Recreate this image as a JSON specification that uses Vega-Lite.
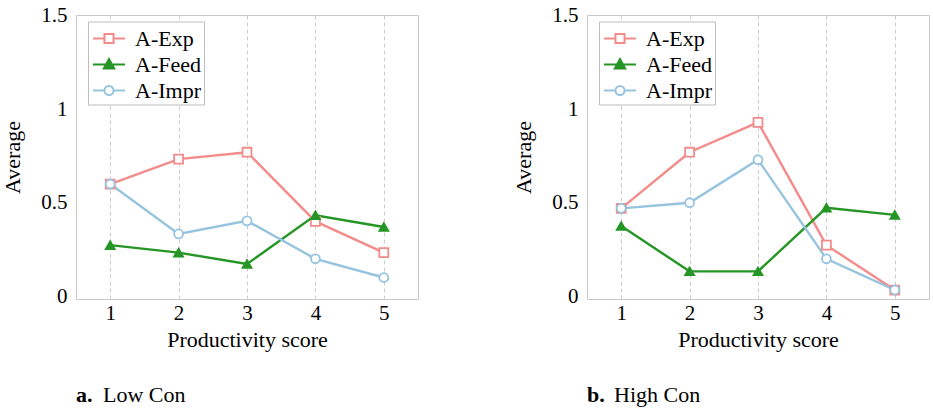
{
  "$schema": "https://vega.github.io/schema/vega-lite/v6.json",
  "padding": {"left": 1, "top": 4, "right": 2, "bottom": 2},
  "background": "white",
  "config": {
    "font": "Liberation Serif",
    "view": {"stroke": "#c8c8c8", "strokeWidth": 1},
    "axis": {
      "labelFont": "Liberation Serif",
      "labelFontSize": 21,
      "labelColor": "black",
      "titleFont": "Liberation Serif",
      "titleFontSize": 22,
      "titleFontWeight": "normal",
      "titleColor": "black",
      "domain": false,
      "ticks": false
    },
    "legend": {
      "labelFont": "Liberation Serif"
    },
    "title": {
      "orient": "bottom",
      "anchor": "start",
      "font": "Liberation Serif",
      "fontSize": 22,
      "color": "black"
    }
  },
  "datasets": {
    "low": [
      {"score": 1, "series": "A-Exp", "average": 0.6},
      {"score": 2, "series": "A-Exp", "average": 0.733},
      {"score": 3, "series": "A-Exp", "average": 0.77},
      {"score": 4, "series": "A-Exp", "average": 0.4},
      {"score": 5, "series": "A-Exp", "average": 0.233},
      {"score": 1, "series": "A-Feed", "average": 0.273},
      {"score": 2, "series": "A-Feed", "average": 0.233},
      {"score": 3, "series": "A-Feed", "average": 0.172},
      {"score": 4, "series": "A-Feed", "average": 0.433},
      {"score": 5, "series": "A-Feed", "average": 0.37},
      {"score": 1, "series": "A-Impr", "average": 0.6},
      {"score": 2, "series": "A-Impr", "average": 0.333},
      {"score": 3, "series": "A-Impr", "average": 0.403},
      {"score": 4, "series": "A-Impr", "average": 0.2},
      {"score": 5, "series": "A-Impr", "average": 0.1}
    ],
    "high": [
      {"score": 1, "series": "A-Exp", "average": 0.47},
      {"score": 2, "series": "A-Exp", "average": 0.77},
      {"score": 3, "series": "A-Exp", "average": 0.93},
      {"score": 4, "series": "A-Exp", "average": 0.273},
      {"score": 5, "series": "A-Exp", "average": 0.033},
      {"score": 1, "series": "A-Feed", "average": 0.375},
      {"score": 2, "series": "A-Feed", "average": 0.133},
      {"score": 3, "series": "A-Feed", "average": 0.133},
      {"score": 4, "series": "A-Feed", "average": 0.473},
      {"score": 5, "series": "A-Feed", "average": 0.435},
      {"score": 1, "series": "A-Impr", "average": 0.47},
      {"score": 2, "series": "A-Impr", "average": 0.5},
      {"score": 3, "series": "A-Impr", "average": 0.73},
      {"score": 4, "series": "A-Impr", "average": 0.2},
      {"score": 5, "series": "A-Impr", "average": 0.033}
    ]
  },
  "spacing": 93,
  "resolve": {"scale": {"color": "independent"}},
  "hconcat": [
    {
      "title": {"text": "Low Con", "fontWeight": "normal", "frame": "group", "offset": 0, "dx": 27, "dy": -22},
      "vconcat": [
        {
          "width": 342,
          "height": 284,
          "data": {"name": "low"},
          "title": {"text": "a.", "fontWeight": "bold", "frame": "group", "offset": 35},
          "encoding": {
            "x": {
              "field": "score", "type": "quantitative",
              "scale": {"domain": [0.5, 5.5], "nice": false, "zero": false},
              "axis": {"values": [1, 2, 3, 4, 5], "title": "Productivity score", "grid": true, "gridDash": [4, 3], "gridColor": "#cccccc", "labelPadding": 3, "titlePadding": 6}
            },
            "y": {
              "field": "average", "type": "quantitative",
              "scale": {"domain": [-0.015, 1.504], "nice": false, "zero": false},
              "axis": {"values": [0, 0.5, 1, 1.5], "format": ".1~f", "title": "Average", "grid": false, "labelPadding": 9, "titlePadding": 16}
            },
            "color": {
              "field": "series", "type": "nominal",
              "scale": {"domain": ["A-Exp", "A-Feed", "A-Impr"], "range": ["#f48b8b", "#259625", "#96c4de"]},
              "legend": {
                "title": null, "orient": "none", "legendX": 12, "legendY": 6.5,
                "symbolSize": 676, "symbolStrokeWidth": 2, "symbolOffset": 4,
                "labelFontSize": 22, "labelColor": "black",
                "labelOffset": 12, "rowPadding": 1, "padding": 3,
                "strokeColor": "#bdbdbd", "fillColor": "white",
                "encode": {
                  "symbols": {
                    "update": {
                      "shape": {"signal": "datum.value === 'A-Exp' ? 'M-1.23,0H-0.35M0.35,0H1.23M-0.35,-0.35H0.35V0.35H-0.35Z' : datum.value === 'A-Feed' ? 'M-1.23,0H1.23M0,-0.42L0.4,0.3H-0.4Z' : 'M-1.23,0H-0.35M0.35,0H1.23M-0.35,0A0.35,0.35 0 1,0 0.35,0A0.35,0.35 0 1,0 -0.35,0Z'"},
                      "stroke": {"signal": "datum.value === 'A-Exp' ? '#f48b8b' : datum.value === 'A-Feed' ? '#259625' : '#96c4de'"},
                      "fill": {"signal": "datum.value === 'A-Feed' ? '#259625' : 'white'"},
                      "opacity": {"value": 1}
                    }
                  }
                }
              }
            }
          },
          "layer": [
            {"mark": {"type": "line", "strokeWidth": 2.4}},
            {
              "mark": {"type": "point", "size": 80, "strokeWidth": 1.8, "opacity": 1, "filled": false},
              "encoding": {
                "shape": {"condition": [{"test": "datum.series === 'A-Exp'", "value": "square"}, {"test": "datum.series === 'A-Feed'", "value": "triangle-up"}], "value": "circle"},
                "fill": {"condition": {"test": "datum.series === 'A-Feed'", "value": "#259625"}, "value": "white"}
              }
            }
          ]
        }
      ]
    },
    {
      "title": {"text": "High Con", "fontWeight": "normal", "frame": "group", "offset": 0, "dx": 27, "dy": -22},
      "vconcat": [
        {
          "width": 342,
          "height": 284,
          "data": {"name": "high"},
          "title": {"text": "b.", "fontWeight": "bold", "frame": "group", "offset": 35},
          "encoding": {
            "x": {
              "field": "score", "type": "quantitative",
              "scale": {"domain": [0.5, 5.5], "nice": false, "zero": false},
              "axis": {"values": [1, 2, 3, 4, 5], "title": "Productivity score", "grid": true, "gridDash": [4, 3], "gridColor": "#cccccc", "labelPadding": 3, "titlePadding": 6}
            },
            "y": {
              "field": "average", "type": "quantitative",
              "scale": {"domain": [-0.015, 1.504], "nice": false, "zero": false},
              "axis": {"values": [0, 0.5, 1, 1.5], "format": ".1~f", "title": "Average", "grid": false, "labelPadding": 9, "titlePadding": 16}
            },
            "color": {
              "field": "series", "type": "nominal",
              "scale": {"domain": ["A-Exp", "A-Feed", "A-Impr"], "range": ["#f48b8b", "#259625", "#96c4de"]},
              "legend": {
                "title": null, "orient": "none", "legendX": 12, "legendY": 6.5,
                "symbolSize": 676, "symbolStrokeWidth": 2, "symbolOffset": 4,
                "labelFontSize": 22, "labelColor": "black",
                "labelOffset": 12, "rowPadding": 1, "padding": 3,
                "strokeColor": "#bdbdbd", "fillColor": "white",
                "encode": {
                  "symbols": {
                    "update": {
                      "shape": {"signal": "datum.value === 'A-Exp' ? 'M-1.23,0H-0.35M0.35,0H1.23M-0.35,-0.35H0.35V0.35H-0.35Z' : datum.value === 'A-Feed' ? 'M-1.23,0H1.23M0,-0.42L0.4,0.3H-0.4Z' : 'M-1.23,0H-0.35M0.35,0H1.23M-0.35,0A0.35,0.35 0 1,0 0.35,0A0.35,0.35 0 1,0 -0.35,0Z'"},
                      "stroke": {"signal": "datum.value === 'A-Exp' ? '#f48b8b' : datum.value === 'A-Feed' ? '#259625' : '#96c4de'"},
                      "fill": {"signal": "datum.value === 'A-Feed' ? '#259625' : 'white'"},
                      "opacity": {"value": 1}
                    }
                  }
                }
              }
            }
          },
          "layer": [
            {"mark": {"type": "line", "strokeWidth": 2.4}},
            {
              "mark": {"type": "point", "size": 80, "strokeWidth": 1.8, "opacity": 1, "filled": false},
              "encoding": {
                "shape": {"condition": [{"test": "datum.series === 'A-Exp'", "value": "square"}, {"test": "datum.series === 'A-Feed'", "value": "triangle-up"}], "value": "circle"},
                "fill": {"condition": {"test": "datum.series === 'A-Feed'", "value": "#259625"}, "value": "white"}
              }
            }
          ]
        }
      ]
    }
  ]
}
